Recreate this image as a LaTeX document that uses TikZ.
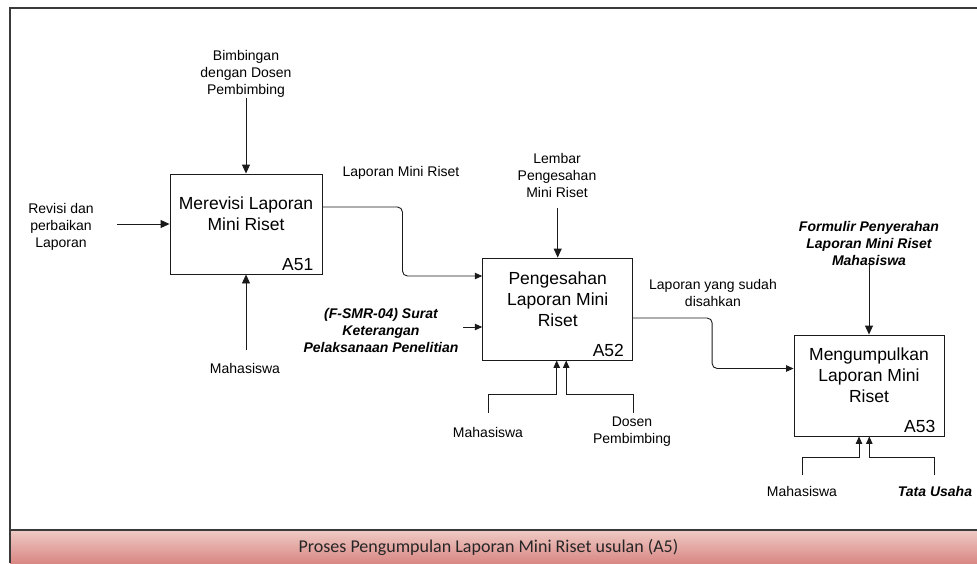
\documentclass[tikz,border=0pt]{standalone}
\usepackage{fontspec}
\setmainfont{Liberation Sans}
\newfontfamily\bandfont{Carlito}
\usetikzlibrary{arrows.meta,calc}

\definecolor{linec}{HTML}{1A1A1A}
\definecolor{frameline}{HTML}{3A3A3A}
\definecolor{bandtop}{HTML}{EFCAC5}
\definecolor{bandbot}{HTML}{D98884}

\tikzset{
  every node/.style={inner sep=1pt},
  box/.style={draw=linec, line width=0.9pt, minimum width=150pt, minimum height=101pt, inner sep=0pt},
  boxtxt/.style={align=center, font=\fontsize{17.5}{21}\selectfont},
  idtxt/.style={anchor=east, font=\fontsize{17.5}{21}\selectfont},
  lbl/.style={align=center, font=\fontsize{14}{17}\selectfont},
  lblbi/.style={align=center, font=\fontsize{14}{17}\selectfont\bfseries\itshape},
  arr/.style={draw=linec, line width=0.9pt, -{Triangle[length=9pt,width=8pt]}},
  arrs/.style={draw=linec, line width=0.9pt, -{Triangle[length=7.5pt,width=6.5pt]}},
}

\begin{document}
\begin{tikzpicture}[x=1pt,y=-1pt]
\useasboundingbox (0,0) rectangle (977,563);

% outer frame and title band
\shade[top color=bandtop, bottom color=bandbot] (10,530) rectangle (977,563);
\draw[frameline, line width=1.6pt] (977,8) -- (10,8) -- (10,563);
\draw[frameline, line width=1.8pt] (10,530) -- (977,530);
\node[font=\bandfont\fontsize{18}{20}\selectfont, text=black!85] (title) at (488.5,547)
  {Proses Pengumpulan Laporan Mini Riset usulan (A5)};

% activity boxes
\node[box, minimum width=152pt, minimum height=100pt] (a51) at (246,224) {};
\node[box, minimum width=150pt, minimum height=102pt] (a52) at (557.7,309) {};
\node[box, minimum width=150pt, minimum height=101pt] (a53) at (869,385.5) {};

\node[boxtxt] (t51) at (246,214) {Merevisi Laporan\\Mini Riset};
\node[boxtxt] (t52) at (557.7,299.5) {Pengesahan\\Laporan Mini\\Riset};
\node[boxtxt] (t53) at (869,375.5) {Mengumpulkan\\Laporan Mini\\Riset};

\node[idtxt] (id51) at ($(a51.south east)+(-8,-10)$) {A51};
\node[idtxt] (id52) at ($(a52.south east)+(-8,-10)$) {A52};
\node[idtxt] (id53) at ($(a53.south east)+(-8,-10)$) {A53};

% labels
\node[lbl] (revisi) at (61,227) {Revisi dan\\perbaikan\\Laporan};
\node[lbl] (bim) at (246,74) {Bimbingan\\dengan Dosen\\Pembimbing};
\node[lbl] (mhs1) at (245,368) {Mahasiswa};
\node[lbl] (lmr) at (401,173) {Laporan Mini Riset};
\node[lbl] (lembar) at (557,175.5) {Lembar\\Pengesahan\\Mini Riset};
\node[lblbi] (fsmr) at (381,330) {(F-SMR-04) Surat\\Keterangan\\Pelaksanaan Penelitian};
\node[lbl] (mhs2) at (488,432) {Mahasiswa};
\node[lbl] (dosen) at (632,431.5) {Dosen\\Pembimbing};
\node[lbl] (lys) at (713,293) {Laporan yang sudah\\disahkan};
\node[lblbi] (form) at (869,243.8) {Formulir Penyerahan\\Laporan Mini Riset\\Mahasiswa};
\node[lbl] (mhs3) at (802,491.7) {Mahasiswa};
\node[lblbi] (tata) at (935,491.7) {Tata Usaha};

% free ends of the boundary arrows
\coordinate (rin) at (117,224);
\coordinate (bimin) at (246,98);
\coordinate (m1in) at (246,350);
\coordinate (lbin) at (557.7,208);
\coordinate (fsin) at (463,327);
\coordinate (m2in) at (488,413);
\coordinate (d2in) at (633,413);
\coordinate (fmin) at (869,258);
\coordinate (m3in) at (802,475);
\coordinate (t3in) at (934,475);

% A51 arrows
\draw[arr] (rin) -- (a51.west);
\draw[arr] (bimin) -- (a51.north);
\draw[arr] (m1in) -- (a51.south);

% A51 -> A52
\draw[arrs, rounded corners=5pt] ($(a51.east)+(0,-17)$) -- ++(80,0) |- ($(a52.west)+(0,-33)$);

% A52 arrows
\draw[arr] (lbin) -- (a52.north);
\draw[arrs] (fsin) -- (fsin -| a52.west);
\draw[arrs] (m2in) |- ($(a52.south)+(-1,34)$) -- ($(a52.south)+(-1,0)$);
\draw[arrs] (d2in) |- ($(a52.south)+(8.5,34)$) -- ($(a52.south)+(8.5,0)$);

% A52 -> A53
\draw[arrs, rounded corners=5pt] ($(a52.east)+(0,9)$) -- ++(79,0) |- ($(a53.west)+(0,-17)$);

% A53 arrows
\draw[arr] (fmin) -- (a53.north);
\draw[arrs] (m3in) |- ($(a53.south)+(-10,20.5)$) -- ($(a53.south)+(-10,0)$);
\draw[arrs] (t3in) |- ($(a53.south)+(0.3,20.5)$) -- ($(a53.south)+(0.3,0)$);
\end{tikzpicture}
\end{document}
